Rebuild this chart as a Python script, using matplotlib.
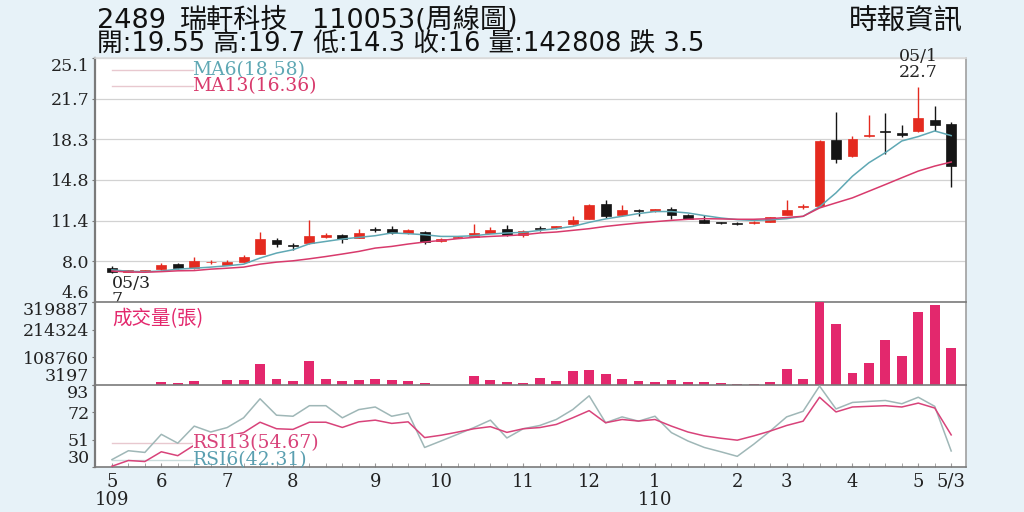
import matplotlib
matplotlib.use("Agg")
import matplotlib.pyplot as plt
import numpy as np

# ── Weekly OHLC (one entry per week, 109/5 .. 110/5/3) ────────────────────────
open_ = [7.45, 7.15, 7.18, 7.40, 7.78, 7.45, 7.93, 7.75, 8.00, 8.65,
         9.85, 9.35, 9.55, 10.05, 10.25, 9.97, 10.70, 10.70, 10.40, 10.50,
         9.70, 9.97, 10.10, 10.40, 10.75, 10.20, 10.78, 10.80, 11.12, 11.60,
         12.87, 11.88, 12.30, 12.22, 12.40, 11.94, 11.46, 11.26, 11.18, 11.20,
         11.33, 11.94, 12.59, 12.64, 18.20, 16.86, 18.52, 18.95, 18.83, 18.97,
         19.90, 19.55]
high_ = [7.60, 7.30, 7.25, 7.85, 7.85, 8.35, 8.10, 8.15, 8.57, 10.50,
         9.95, 9.55, 11.45, 10.40, 10.35, 10.76, 10.90, 11.00, 10.70, 10.60,
         9.95, 10.15, 11.18, 10.87, 11.10, 10.68, 10.95, 11.00, 11.86, 12.84,
         13.15, 12.79, 12.42, 12.45, 12.56, 12.00, 11.90, 11.35, 11.30, 11.38,
         11.78, 13.20, 12.87, 18.20, 20.58, 18.55, 20.30, 20.46, 19.45, 22.70,
         21.03, 19.70]
low_ = [7.00, 7.10, 7.12, 7.25, 7.40, 7.40, 7.80, 7.70, 7.95, 8.60,
        9.20, 8.95, 9.50, 9.97, 9.55, 9.95, 10.48, 10.35, 10.35, 9.50,
        9.65, 9.95, 10.05, 10.38, 10.15, 10.03, 10.60, 10.75, 11.10, 11.55,
        11.66, 11.85, 11.86, 12.20, 11.58, 11.55, 11.25, 11.15, 11.05, 11.18,
        11.30, 11.90, 12.45, 12.60, 16.30, 16.80, 18.45, 17.00, 18.50, 18.90,
        19.00, 14.30]
close_ = [7.10, 7.25, 7.22, 7.72, 7.45, 8.05, 7.97, 8.00, 8.37, 9.90,
          9.50, 9.33, 10.17, 10.20, 9.90, 10.40, 10.66, 10.42, 10.62, 9.62,
          9.88, 10.10, 10.40, 10.68, 10.20, 10.53, 10.74, 10.95, 11.52, 12.73,
          11.80, 12.30, 12.26, 12.42, 11.94, 11.58, 11.27, 11.22, 11.14, 11.35,
          11.75, 12.30, 12.70, 18.13, 16.60, 18.27, 18.58, 18.90, 18.65, 20.10,
          19.50, 16.00]

ma6 = [7.30, 7.18, 7.15, 7.20, 7.36, 7.44, 7.53, 7.64, 7.78, 8.29,
       8.71, 8.99, 9.49, 9.69, 9.89, 10.03, 10.17, 10.40, 10.34, 10.25,
       10.11, 10.11, 10.17, 10.31, 10.40, 10.45, 10.62, 10.76, 10.95, 11.29,
       11.58, 11.80, 12.03, 12.20, 12.20, 12.08, 11.86, 11.66, 11.52, 11.46,
       11.50, 11.60, 11.80, 12.60, 13.77, 15.17, 16.30, 17.15, 18.13, 18.50,
       18.97, 18.58]
ma13 = [7.20, 7.12, 7.10, 7.15, 7.22, 7.24, 7.36, 7.44, 7.53, 7.78,
        7.95, 8.06, 8.23, 8.42, 8.63, 8.85, 9.13, 9.27, 9.47, 9.64,
        9.77, 9.92, 10.03, 10.11, 10.17, 10.25, 10.40, 10.48, 10.62, 10.76,
        10.95, 11.10, 11.24, 11.35, 11.46, 11.55, 11.60, 11.58, 11.55, 11.55,
        11.60, 11.70, 11.80, 12.50, 12.93, 13.35, 13.91, 14.47, 15.04, 15.60,
        16.02, 16.36]

volume = [5000, 4500, 3800, 13500, 10800, 19600, 4500, 22300, 22300, 83300,
          27200, 19600, 95900, 25000, 19600, 22300, 25000, 22300, 19600, 12000,
          5000, 5000, 38700, 22300, 13500, 12000, 28800, 18500, 56600, 60400,
          44000, 27200, 19600, 14600, 22300, 15800, 14600, 9600, 5700, 7000,
          15800, 63100, 25000, 319887, 234800, 50100, 88300, 174900, 115000, 282900,
          308400, 142808]

rsi6 = [35.7, 42.5, 41.2, 55.1, 48.3, 61.4, 56.9, 60.3, 67.8, 82.4,
        69.8, 69.0, 77.1, 77.1, 67.8, 74.1, 76.1, 69.0, 71.5, 45.0,
        50.0, 55.1, 60.3, 66.0, 52.3, 59.4, 61.9, 66.5, 74.1, 84.7,
        64.0, 68.5, 65.2, 69.0, 56.4, 50.0, 45.0, 41.7, 38.2, 47.5,
        57.6, 68.5, 72.8, 92.2, 74.6, 79.6, 80.4, 81.1, 78.6, 83.6,
        76.6, 42.31]
rsi13 = [30.6, 35.0, 34.2, 41.7, 38.7, 46.8, 51.3, 53.9, 56.4, 64.4,
         59.4, 58.9, 64.4, 64.4, 60.4, 64.7, 66.0, 63.5, 64.7, 52.6,
         54.4, 56.8, 59.4, 61.0, 56.6, 59.4, 60.3, 62.7, 67.8, 73.3,
         64.0, 66.5, 65.3, 66.5, 61.4, 56.9, 53.9, 52.1, 50.6, 53.9,
         57.6, 61.9, 65.2, 83.6, 72.3, 76.1, 76.6, 77.1, 76.1, 79.1,
         75.3, 54.67]

# month ticks (week index) and their labels
month_pos = [0, 3, 7, 11, 16, 20, 25, 29, 33, 38, 41, 45, 49, 51]
month_lbl = ["5\n109", "6", "7", "8", "9", "10", "11", "12", "1\n110",
             "2", "3", "4", "5", "5/3"]

price_ticks = [4.6, 8.02, 11.43, 14.85, 18.27, 21.68, 25.1]
price_lbl = ["4.6", "8.0", "11.4", "14.8", "18.3", "21.7", "25.1"]
vol_ticks = [3197, 108760, 214324, 319887]
rsi_ticks = [30, 51, 72, 93]

header1 = ["2489", "瑞軒科技", "110053(周線圖)"]
header2 = "開:19.55 高:19.7 低:14.3 收:16 量:142808 跌 3.5"
source = "時報資訊"

# ── Style ─────────────────────────────────────────────────────────────────────
BG = "#e7f2f8"
RED = "#e42a1f"
BLACK = "#151515"
VOLC = "#e3286d"
MA6C = "#5fa8b4"
MA13C = "#d83a6c"
RSI6C = "#9fb7b7"
RSI13C = "#d8437a"
SPINE = "#7a7a7a"
HEAD = ["DejaVu Sans", "Noto Sans CJK TC"]
CJK = ["Noto Sans CJK TC", "DejaVu Sans"]

plt.rcParams["font.family"] = ["DejaVu Serif"]

fig = plt.figure(figsize=(10.24, 5.12), dpi=100, facecolor=BG)

def box(top, bot):
    return [95 / 1024, 1 - bot / 512, 871 / 1024, (bot - top) / 512]

ax_p = fig.add_axes(box(58, 302))
ax_v = fig.add_axes(box(302, 385), sharex=ax_p)
ax_r = fig.add_axes(box(385, 467), sharex=ax_p)

x = np.arange(len(close_))

# ── Price panel: candlesticks + MAs ───────────────────────────────────────────
for i in x:
    o, h, l, c = open_[i], high_[i], low_[i], close_[i]
    col = RED if c > o else BLACK
    ax_p.vlines(i, l, h, color=col, lw=1.0, zorder=3)
    body = max(abs(c - o), 0.07)
    ax_p.bar(i, body, bottom=min(o, c), width=0.6, color=col,
             edgecolor=col, lw=0.5, zorder=4)

ax_p.plot(x, ma6, color=MA6C, lw=1.1, zorder=5)
ax_p.plot(x, ma13, color=MA13C, lw=1.1, zorder=5)

ax_p.set_ylim(4.6, 25.1)
ax_p.set_yticks(price_ticks, price_lbl)
ax_p.grid(axis="y", color="#d2d2d2", lw=0.9)
ax_p.set_axisbelow(True)

# legend
ax_p.plot([0.02, 0.112], [0.951, 0.951], transform=ax_p.transAxes,
          color="#e8c8cf", lw=1.0)
ax_p.plot([0.02, 0.112], [0.885, 0.885], transform=ax_p.transAxes,
          color="#e8c8cf", lw=1.0)
ax_p.text(0.112, 0.951, "MA6(18.58)", transform=ax_p.transAxes,
          color=MA6C, fontsize=13.5, va="center", ha="left")
ax_p.text(0.112, 0.885, "MA13(16.36)", transform=ax_p.transAxes,
          color=MA13C, fontsize=13.5, va="center", ha="left")

# high / low annotations
hi = int(np.argmax(high_))
ax_p.annotate(f"05/1\n{high_[hi]:.1f}", (hi, high_[hi]), xytext=(0, 4),
              textcoords="offset points", ha="center", va="bottom",
              fontsize=12.5, color="#222", linespacing=0.95)
lo = int(np.argmin(low_))
ax_p.annotate(f"05/3\n{low_[lo]:.0f}", (lo, low_[lo]), xytext=(0, -1),
              textcoords="offset points", ha="left", va="top",
              fontsize=12.5, color="#222", linespacing=0.9,
              annotation_clip=False, clip_on=True)

# ── Volume panel ──────────────────────────────────────────────────────────────
ax_v.bar(x, volume, width=0.6, color=VOLC, zorder=3)
ax_v.set_ylim(3197, 319887)
ax_v.set_yticks(vol_ticks, [str(v) for v in vol_ticks])
ax_v.text(0.02, 0.80, "成交量(張)", transform=ax_v.transAxes, color=VOLC,
          fontsize=14, va="center", ha="left", family=CJK)

# ── RSI panel ─────────────────────────────────────────────────────────────────
ax_r.plot(x, rsi6, color=RSI6C, lw=1.1, zorder=3)
ax_r.plot(x, rsi13, color=RSI13C, lw=1.1, zorder=3)
ax_r.set_ylim(30, 93)
ax_r.set_yticks(rsi_ticks, [str(v) for v in rsi_ticks])
ax_r.plot([0.02, 0.112], [0.293, 0.293], transform=ax_r.transAxes,
          color="#e8c8cf", lw=1.0, zorder=2)
ax_r.plot([0.02, 0.112], [0.085, 0.085], transform=ax_r.transAxes,
          color="#c9dcdc", lw=1.0, zorder=2)
ax_r.text(0.112, 0.293, "RSI13(54.67)", transform=ax_r.transAxes,
          color=RSI13C, fontsize=13.5, va="center", ha="left", zorder=6,
          bbox=dict(facecolor="white", edgecolor="none", pad=0))
ax_r.text(0.112, 0.085, "RSI6(42.31)", transform=ax_r.transAxes,
          color="#5a9fb0", fontsize=13.5, va="center", ha="left", zorder=6)

ax_r.set_xlim(-1.03, 51.9)
ax_r.set_xticks(month_pos, month_lbl)
ax_r.set_xticks(x, minor=True)
ax_r.tick_params(axis="x", which="both", direction="in", length=3,
                 color="#999", labelsize=13, pad=4, labelcolor="#222")
for lab in ax_r.get_xticklabels():
    lab.set_linespacing(1.0)

# ── Shared axes styling ───────────────────────────────────────────────────────
for ax in (ax_p, ax_v, ax_r):
    ax.set_facecolor("white")
    ax.tick_params(axis="y", direction="out", length=2, color=SPINE,
                   labelsize=12.5, pad=2, labelcolor="#222")
    ax.spines["left"].set_color(SPINE)
    ax.spines["left"].set_linewidth(1.6)
    ax.spines["right"].set_color("#a0a0a0")
    ax.spines["right"].set_linewidth(1.2)
    ax.spines["top"].set_color(SPINE)
    ax.spines["top"].set_linewidth(1.2)
    ax.spines["bottom"].set_color(SPINE)
    ax.spines["bottom"].set_linewidth(1.2)
    labs = ax.get_yticklabels()
    labs[0].set_va("bottom")
    labs[-1].set_va("top")

ax_p.spines["top"].set_color("#dcdcdc")
ax_p.spines["bottom"].set_visible(False)
ax_v.spines["bottom"].set_visible(False)
ax_p.tick_params(axis="x", which="both", bottom=False, labelbottom=False)
ax_v.tick_params(axis="x", which="both", bottom=False, labelbottom=False)

# ── Header ────────────────────────────────────────────────────────────────────
for txt, px in zip(header1, [97, 180, 312]):
    fig.text(px / 1024, 1 - 21 / 512, txt, family=HEAD, fontsize=19.5,
             va="center", ha="left", color="#111")
fig.text(97 / 1024, 1 - 45 / 512, header2, family=HEAD, fontsize=18.5,
         va="center", ha="left", color="#111")
fig.text(906 / 1024, 1 - 22 / 512, source, family=CJK, fontsize=20.5,
         va="center", ha="center", color="#111")

fig.savefig("out.png", dpi=100, facecolor=BG)
